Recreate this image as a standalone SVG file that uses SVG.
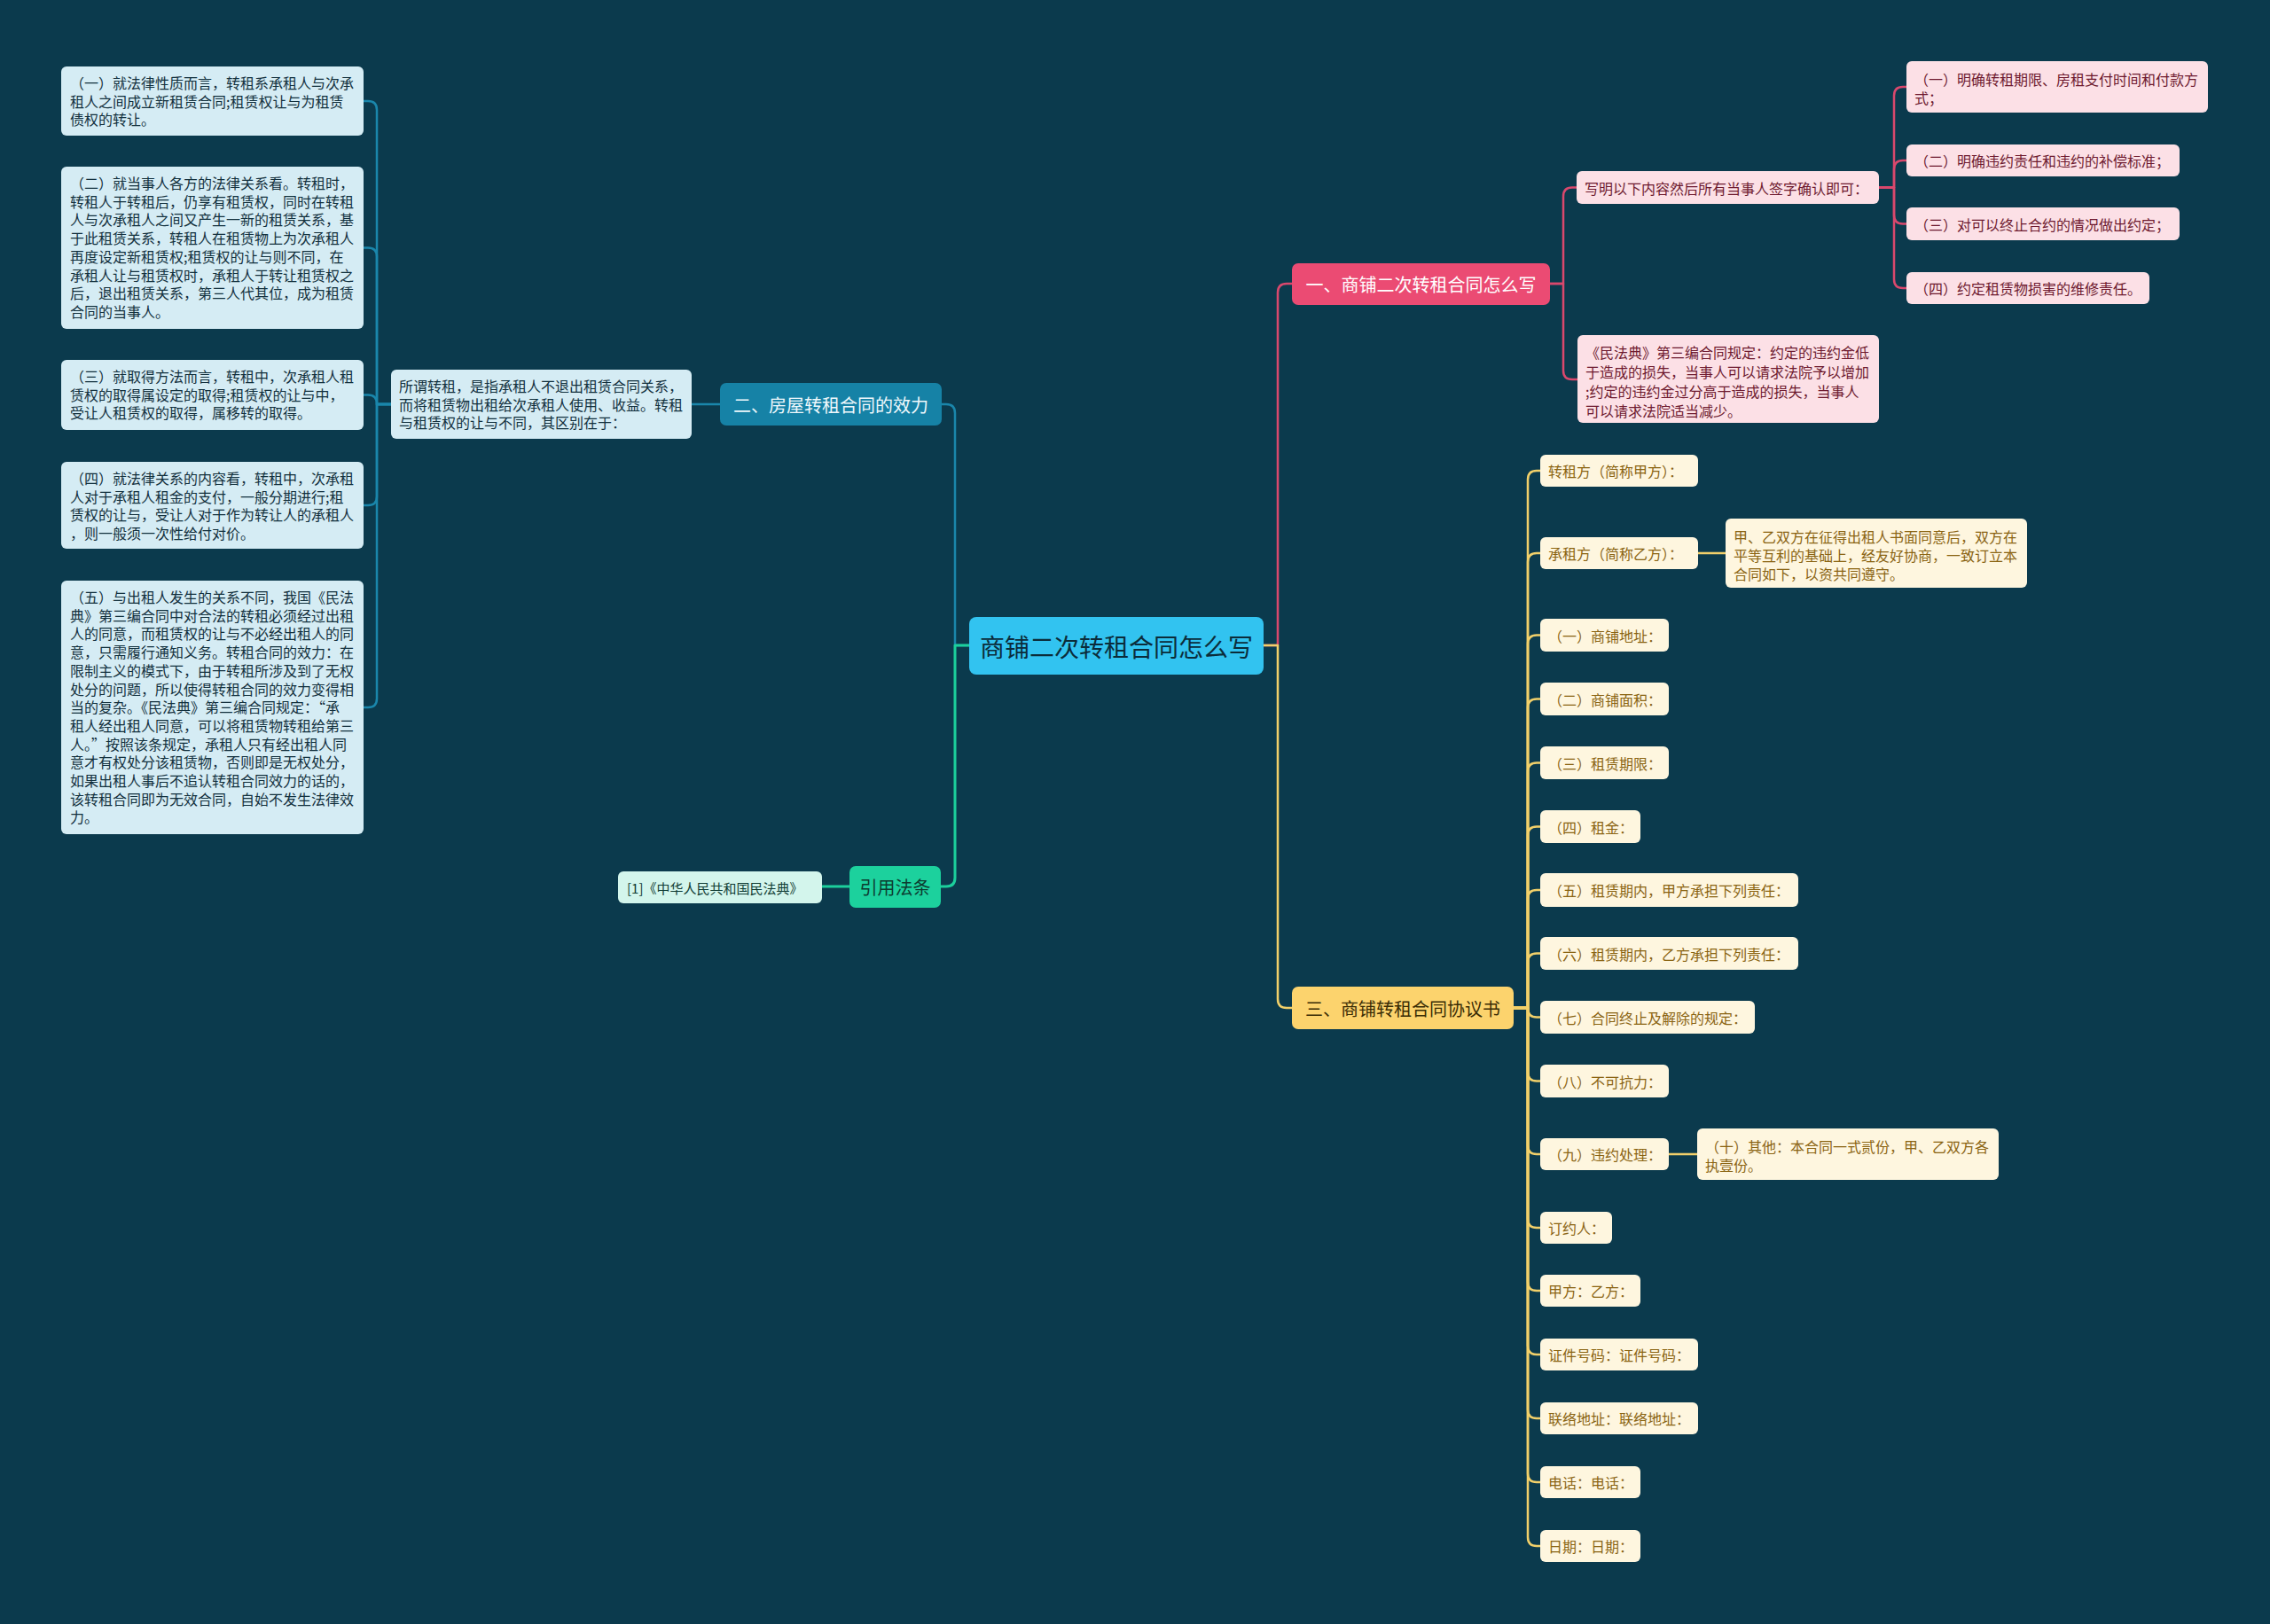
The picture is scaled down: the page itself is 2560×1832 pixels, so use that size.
<svg xmlns="http://www.w3.org/2000/svg" width="2560" height="1832" viewBox="0 0 2560 1832">
<style>
text{font-family:"Noto Sans CJK SC","Noto Sans",sans-serif;dominant-baseline:central}
.t16{font-size:16px}
.t15{font-size:15px}
.t20{font-size:20px}
.lb rect{fill:#d5ecf4}
.lb text{fill:#12303d}
.pk rect{fill:#fce0e6}
.pk text{fill:#6e1a2f}
.yl rect{fill:#fef6df}
.yl text{fill:#8a6412}
.c{fill:none;stroke-linecap:round;stroke-linejoin:round}
.cb{stroke:#1a86ab;stroke-width:2.5}
.cg{stroke:#1ccf9c;stroke-width:3}
.cp{stroke:#d9486d;stroke-width:2.5}
.cy{stroke:#f2d06a;stroke-width:2.5}
</style>
<rect width="2560" height="1832" fill="#0b3a4d"/>
<g id="connectors">
<path class="c cb" d="M1093 728 H1077 V466 Q1077 456 1067 456 H1062"/>
<path class="c cg" d="M1093 728 H1077 V990 Q1077 1000 1067 1000 H1061"/>
<path class="c cb" d="M812 456 H780"/>
<path class="c cg" d="M958 1000 H927"/>
<path class="c cb" d="M441 456 H425 V124 Q425 114 415 114 H410"/>
<path class="c cb" d="M441 456 H425 V289.5 Q425 279.5 415 279.5 H410"/>
<path class="c cb" d="M441 456 H425 V455.5 Q425 445.5 415 445.5 H410"/>
<path class="c cb" d="M441 456 H425 V560 Q425 570 415 570 H410"/>
<path class="c cb" d="M441 456 H425 V788 Q425 798 415 798 H410"/>
<path class="c cp" d="M1425 728 H1441 V330 Q1441 320 1451 320 H1457"/>
<path class="c cy" d="M1425 728 H1441 V1127 Q1441 1137 1451 1137 H1457"/>
<path class="c cp" d="M1748 320 H1763 V221.5 Q1763 211.5 1773 211.5 H1778"/>
<path class="c cp" d="M1748 320 H1763 V418 Q1763 428 1773 428 H1779"/>
<path class="c cp" d="M2119 211.5 H2136 V108 Q2136 98 2146 98 H2150"/>
<path class="c cp" d="M2119 211.5 H2136 V191 Q2136 181 2146 181 H2150"/>
<path class="c cp" d="M2119 211.5 H2136 V242.5 Q2136 252.5 2146 252.5 H2150"/>
<path class="c cp" d="M2119 211.5 H2136 V315 Q2136 325 2146 325 H2150"/>
<path class="c cy" d="M1707 1137 H1723 V541 Q1723 531 1733 531 H1737"/>
<path class="c cy" d="M1707 1137 H1723 V634 Q1723 624 1733 624 H1737"/>
<path class="c cy" d="M1707 1137 H1723 V726.5 Q1723 716.5 1733 716.5 H1737"/>
<path class="c cy" d="M1707 1137 H1723 V798.5 Q1723 788.5 1733 788.5 H1737"/>
<path class="c cy" d="M1707 1137 H1723 V870.5 Q1723 860.5 1733 860.5 H1737"/>
<path class="c cy" d="M1707 1137 H1723 V942.5 Q1723 932.5 1733 932.5 H1737"/>
<path class="c cy" d="M1707 1137 H1723 V1014 Q1723 1004 1733 1004 H1737"/>
<path class="c cy" d="M1707 1137 H1723 V1085.5 Q1723 1075.5 1733 1075.5 H1737"/>
<path class="c cy" d="M1707 1137 H1723 V1137.5 Q1723 1147.5 1733 1147.5 H1737"/>
<path class="c cy" d="M1707 1137 H1723 V1209.5 Q1723 1219.5 1733 1219.5 H1737"/>
<path class="c cy" d="M1707 1137 H1723 V1292 Q1723 1302 1733 1302 H1737"/>
<path class="c cy" d="M1707 1137 H1723 V1375 Q1723 1385 1733 1385 H1737"/>
<path class="c cy" d="M1707 1137 H1723 V1446 Q1723 1456 1733 1456 H1737"/>
<path class="c cy" d="M1707 1137 H1723 V1518 Q1723 1528 1733 1528 H1737"/>
<path class="c cy" d="M1707 1137 H1723 V1590 Q1723 1600 1733 1600 H1737"/>
<path class="c cy" d="M1707 1137 H1723 V1662 Q1723 1672 1733 1672 H1737"/>
<path class="c cy" d="M1707 1137 H1723 V1734 Q1723 1744 1733 1744 H1737"/>
<path class="c cy" d="M1915 624 H1946"/>
<path class="c cy" d="M1882 1302 H1914"/>
</g>

<g id="root">
<rect x="1093" y="696" width="332" height="65" rx="8" fill="#32c3f0"/>
<text x="1259" y="728.5" font-size="28" text-anchor="middle" fill="#0b2c3a">商铺二次转租合同怎么写</text>
</g>

<g id="b2">
<rect x="812" y="432" width="250" height="48" rx="7" fill="#1682a6"/>
<text x="937" y="456" class="t20" text-anchor="middle" fill="#eef8fc">二、房屋转租合同的效力</text>
</g>
<g id="b2c" class="lb">
<rect x="441" y="417" width="339" height="78" rx="6"/>
<text class="t16"><tspan x="450" y="435">所谓转租，是指承租人不退出租赁合同关系，</tspan><tspan x="450" y="455.7">而将租赁物出租给次承租人使用、收益。转租</tspan><tspan x="450" y="476.4">与租赁权的让与不同，其区别在于：</tspan></text>
</g>
<g id="l1" class="lb">
<rect x="69" y="75" width="341" height="78" rx="6"/>
<text class="t16"><tspan x="79" y="93">（一）就法律性质而言，转租系承租人与次承</tspan><tspan x="79" y="113.7">租人之间成立新租赁合同;租赁权让与为租赁</tspan><tspan x="79" y="134.4">债权的转让。</tspan></text>
</g>
<g id="l2" class="lb">
<rect x="69" y="188" width="341" height="183" rx="6"/>
<text class="t16"><tspan x="79" y="206">（二）就当事人各方的法律关系看。转租时，</tspan><tspan x="79" y="226.7">转租人于转租后，仍享有租赁权，同时在转租</tspan><tspan x="79" y="247.4">人与次承租人之间又产生一新的租赁关系，基</tspan><tspan x="79" y="268.1">于此租赁关系，转租人在租赁物上为次承租人</tspan><tspan x="79" y="288.8">再度设定新租赁权;租赁权的让与则不同，在</tspan><tspan x="79" y="309.5">承租人让与租赁权时，承租人于转让租赁权之</tspan><tspan x="79" y="330.2">后，退出租赁关系，第三人代其位，成为租赁</tspan><tspan x="79" y="350.9">合同的当事人。</tspan></text>
</g>
<g id="l3" class="lb">
<rect x="69" y="406" width="341" height="79" rx="6"/>
<text class="t16"><tspan x="79" y="424">（三）就取得方法而言，转租中，次承租人租</tspan><tspan x="79" y="444.7">赁权的取得属设定的取得;租赁权的让与中，</tspan><tspan x="79" y="465.4">受让人租赁权的取得，属移转的取得。</tspan></text>
</g>
<g id="l4" class="lb">
<rect x="69" y="521" width="341" height="98" rx="6"/>
<text class="t16"><tspan x="79" y="539">（四）就法律关系的内容看，转租中，次承租</tspan><tspan x="79" y="559.7">人对于承租人租金的支付，一般分期进行;租</tspan><tspan x="79" y="580.4">赁权的让与，受让人对于作为转让人的承租人</tspan><tspan x="79" y="601.1">，则一般须一次性给付对价。</tspan></text>
</g>
<g id="l5" class="lb">
<rect x="69" y="655" width="341" height="286" rx="6"/>
<text class="t16"><tspan x="79" y="673">（五）与出租人发生的关系不同，我国《民法</tspan><tspan x="79" y="693.7">典》第三编合同中对合法的转租必须经过出租</tspan><tspan x="79" y="714.4">人的同意，而租赁权的让与不必经出租人的同</tspan><tspan x="79" y="735.1">意，只需履行通知义务。转租合同的效力：在</tspan><tspan x="79" y="755.8">限制主义的模式下，由于转租所涉及到了无权</tspan><tspan x="79" y="776.5">处分的问题，所以使得转租合同的效力变得相</tspan><tspan x="79" y="797.2">当的复杂。《民法典》第三编合同规定：“承</tspan><tspan x="79" y="817.9">租人经出租人同意，可以将租赁物转租给第三</tspan><tspan x="79" y="838.6">人。”按照该条规定，承租人只有经出租人同</tspan><tspan x="79" y="859.3">意才有权处分该租赁物，否则即是无权处分，</tspan><tspan x="79" y="880">如果出租人事后不追认转租合同效力的话的，</tspan><tspan x="79" y="900.7">该转租合同即为无效合同，自始不发生法律效</tspan><tspan x="79" y="921.4">力。</tspan></text>
</g>

<g id="b4">
<rect x="958" y="977" width="103" height="47" rx="7" fill="#1cd19d"/>
<text x="1009.5" y="1000.5" class="t20" text-anchor="middle" fill="#0c3b30">引用法条</text>
</g>
<g id="b4c">
<rect x="697" y="983" width="230" height="36" rx="6" fill="#d3f5ec"/>
<text x="707" y="1001" class="t15" fill="#0f3b33">[1]《中华人民共和国民法典》</text>
</g>

<g id="b1">
<rect x="1457" y="297" width="291" height="47" rx="7" fill="#eb4b73"/>
<text x="1602.5" y="320.5" class="t20" text-anchor="middle" fill="#ffffff">一、商铺二次转租合同怎么写</text>
</g>
<g id="p1" class="pk">
<rect x="1778" y="193" width="341" height="37" rx="6"/>
<text x="1787" y="211.5" class="t16">写明以下内容然后所有当事人签字确认即可：</text>
</g>
<g id="p2" class="pk">
<rect x="1779" y="378" width="340" height="99" rx="6"/>
<text class="t16"><tspan x="1788" y="397">《民法典》第三编合同规定：约定的违约金低</tspan><tspan x="1788" y="419">于造成的损失，当事人可以请求法院予以增加</tspan><tspan x="1788" y="441">;约定的违约金过分高于造成的损失，当事人</tspan><tspan x="1788" y="463">可以请求法院适当减少。</tspan></text>
</g>
<g id="s1" class="pk">
<rect x="2150" y="69" width="340" height="58" rx="6"/>
<text class="t16"><tspan x="2159" y="89">（一）明确转租期限、房租支付时间和付款方</tspan><tspan x="2159" y="110">式；</tspan></text>
</g>
<g id="s2" class="pk">
<rect x="2150" y="163" width="308" height="36" rx="6"/>
<text x="2159" y="181" class="t16">（二）明确违约责任和违约的补偿标准；</text>
</g>
<g id="s3" class="pk">
<rect x="2150" y="234" width="308" height="37" rx="6"/>
<text x="2159" y="252.5" class="t16">（三）对可以终止合约的情况做出约定；</text>
</g>
<g id="s4" class="pk">
<rect x="2150" y="307" width="274" height="36" rx="6"/>
<text x="2159" y="325" class="t16">（四）约定租赁物损害的维修责任。</text>
</g>

<g id="b3">
<rect x="1457" y="1113" width="250" height="48" rx="7" fill="#fcd36d"/>
<text x="1582" y="1137.5" class="t20" text-anchor="middle" fill="#3a2c05">三、商铺转租合同协议书</text>
</g>
<g id="y1" class="yl"><rect x="1737" y="513" width="178" height="36" rx="6"/><text x="1746" y="531" class="t16">转租方（简称甲方）：</text></g>
<g id="y2" class="yl"><rect x="1737" y="606" width="178" height="36" rx="6"/><text x="1746" y="624" class="t16">承租方（简称乙方）：</text></g>
<g id="y2c" class="yl"><rect x="1946" y="585" width="340" height="78" rx="6"/><text class="t16"><tspan x="1955" y="605">甲、乙双方在征得出租人书面同意后，双方在</tspan><tspan x="1955" y="626">平等互利的基础上，经友好协商，一致订立本</tspan><tspan x="1955" y="647">合同如下，以资共同遵守。</tspan></text></g>
<g id="y3" class="yl"><rect x="1737" y="698" width="145" height="37" rx="6"/><text x="1746" y="716.5" class="t16">（一）商铺地址：</text></g>
<g id="y4" class="yl"><rect x="1737" y="770" width="145" height="37" rx="6"/><text x="1746" y="788.5" class="t16">（二）商铺面积：</text></g>
<g id="y5" class="yl"><rect x="1737" y="842" width="145" height="37" rx="6"/><text x="1746" y="860.5" class="t16">（三）租赁期限：</text></g>
<g id="y6" class="yl"><rect x="1737" y="914" width="113" height="37" rx="6"/><text x="1746" y="932.5" class="t16">（四）租金：</text></g>
<g id="y7" class="yl"><rect x="1737" y="985" width="291" height="38" rx="6"/><text x="1746" y="1004" class="t16">（五）租赁期内，甲方承担下列责任：</text></g>
<g id="y8" class="yl"><rect x="1737" y="1057" width="291" height="37" rx="6"/><text x="1746" y="1075.5" class="t16">（六）租赁期内，乙方承担下列责任：</text></g>
<g id="y9" class="yl"><rect x="1737" y="1129" width="242" height="37" rx="6"/><text x="1746" y="1147.5" class="t16">（七）合同终止及解除的规定：</text></g>
<g id="y10" class="yl"><rect x="1737" y="1201" width="145" height="37" rx="6"/><text x="1746" y="1219.5" class="t16">（八）不可抗力：</text></g>
<g id="y11" class="yl"><rect x="1737" y="1284" width="145" height="36" rx="6"/><text x="1746" y="1302" class="t16">（九）违约处理：</text></g>
<g id="y11c" class="yl"><rect x="1914" y="1273" width="340" height="58" rx="6"/><text class="t16"><tspan x="1923" y="1293">（十）其他：本合同一式贰份，甲、乙双方各</tspan><tspan x="1923" y="1314">执壹份。</tspan></text></g>
<g id="y12" class="yl"><rect x="1737" y="1367" width="81" height="36" rx="6"/><text x="1746" y="1385" class="t16">订约人：</text></g>
<g id="y13" class="yl"><rect x="1737" y="1438" width="113" height="36" rx="6"/><text x="1746" y="1456" class="t16">甲方：乙方：</text></g>
<g id="y14" class="yl"><rect x="1737" y="1510" width="178" height="36" rx="6"/><text x="1746" y="1528" class="t16">证件号码：证件号码：</text></g>
<g id="y15" class="yl"><rect x="1737" y="1582" width="178" height="36" rx="6"/><text x="1746" y="1600" class="t16">联络地址：联络地址：</text></g>
<g id="y16" class="yl"><rect x="1737" y="1654" width="113" height="36" rx="6"/><text x="1746" y="1672" class="t16">电话：电话：</text></g>
<g id="y17" class="yl"><rect x="1737" y="1726" width="113" height="36" rx="6"/><text x="1746" y="1744" class="t16">日期：日期：</text></g>
</svg>
